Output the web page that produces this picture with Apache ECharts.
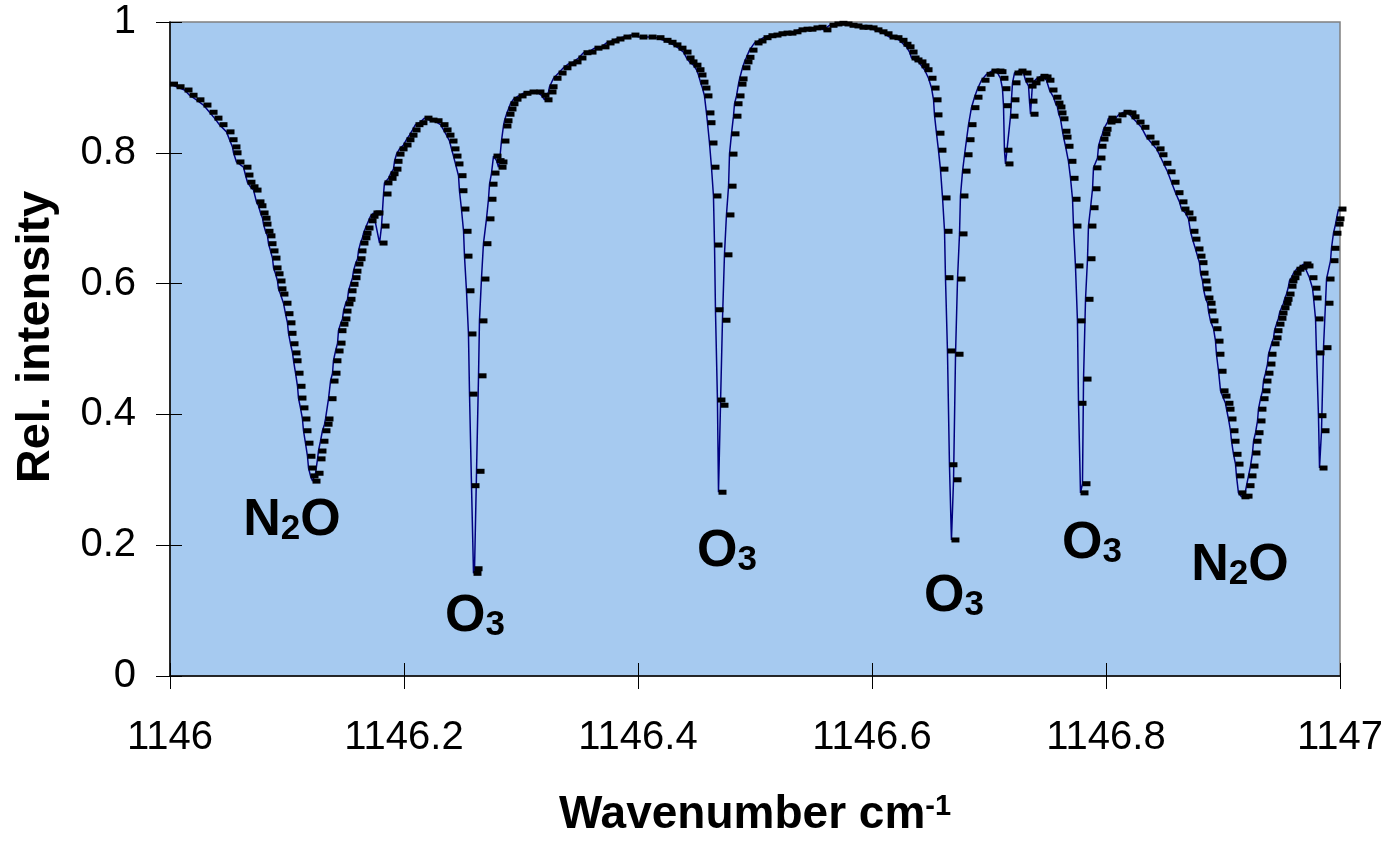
<!DOCTYPE html>
<html><head><meta charset="utf-8">
<script src="https://cdn.jsdelivr.net/npm/echarts/dist/echarts.min.js"></script>
<style>html,body{margin:0;padding:0;background:#fff}#c{width:1389px;height:843px}</style>
</head><body><div id="c"></div>
<script>
const wavenumber = [
1146.0000,1146.0056,1146.0124,1146.0167,1146.0226,1146.0286,1146.0338,1146.0380,1146.0423,1146.0483,
1146.0509,1146.0534,1146.0543,1146.0568,1146.0628,1146.0645,1146.0662,1146.0688,1146.0714,1146.0739,
1146.0756,1146.0774,1146.0791,1146.0799,1146.0816,1146.0833,1146.0842,1146.0859,1146.0876,1146.0885,
1146.0902,1146.0919,1146.0927,1146.0944,1146.0970,1146.0987,1146.1004,1146.1013,1146.1030,1146.1047,
1146.1056,1146.1073,1146.1090,1146.1098,1146.1115,1146.1132,1146.1141,1146.1158,1146.1175,1146.1184,
1146.1201,1146.1218,1146.1244,1146.1261,1146.1269,1146.1286,1146.1303,1146.1321,1146.1329,1146.1355,
1146.1372,1146.1389,1146.1397,1146.1415,1146.1432,1146.1440,1146.1457,1146.1474,1146.1483,1146.1500,
1146.1517,1146.1526,1146.1543,1146.1560,1146.1568,1146.1585,1146.1603,1146.1611,1146.1628,1146.1645,
1146.1654,1146.1671,1146.1697,1146.1714,1146.1739,1146.1756,1146.1791,1146.1808,1146.1825,1146.1833,
1146.1868,1146.1885,1146.1910,1146.1919,1146.1936,1146.1962,1146.1996,1146.2021,1146.2047,1146.2073,
1146.2098,1146.2132,1146.2175,1146.2218,1146.2261,1146.2312,1146.2338,1146.2363,1146.2389,1146.2406,
1146.2423,1146.2440,1146.2466,1146.2474,1146.2491,1146.2509,1146.2517,1146.2534,1146.2551,1146.2560,
1146.2577,1146.2594,1146.2603,1146.2620,1146.2637,1146.2645,1146.2662,1146.2679,1146.2705,1146.2722,
1146.2731,1146.2748,1146.2765,1146.2791,1146.2808,1146.2816,1146.2833,1146.2850,1146.2859,1146.2876,
1146.2893,1146.2910,1146.2936,1146.2979,1146.3021,1146.3073,1146.3132,1146.3175,1146.3201,1146.3235,
1146.3244,1146.3278,1146.3321,1146.3363,1146.3406,1146.3449,1146.3491,1146.3534,1146.3577,1146.3628,
1146.3688,1146.3731,1146.3774,1146.3816,1146.3876,1146.3944,1146.4013,1146.4090,1146.4158,1146.4218,
1146.4261,1146.4303,1146.4346,1146.4389,1146.4415,1146.4440,1146.4474,1146.4500,1146.4517,1146.4534,
1146.4551,1146.4568,1146.4585,1146.4594,1146.4611,1146.4628,1146.4645,1146.4654,1146.4662,1146.4679,
1146.4688,1146.4705,1146.4722,1146.4739,1146.4756,1146.4774,1146.4782,1146.4799,1146.4816,1146.4825,
1146.4842,1146.4859,1146.4868,1146.4893,1146.4910,1146.4927,1146.4953,1146.4996,1146.5030,1146.5073,
1146.5115,1146.5158,1146.5201,1146.5244,1146.5286,1146.5329,1146.5372,1146.5415,1146.5457,1146.5500,
1146.5543,1146.5585,1146.5637,1146.5679,1146.5722,1146.5765,1146.5808,1146.5850,1146.5893,1146.5936,
1146.5979,1146.6021,1146.6064,1146.6107,1146.6150,1146.6192,1146.6235,1146.6269,1146.6295,1146.6321,
1146.6338,1146.6363,1146.6397,1146.6423,1146.6449,1146.6483,1146.6509,1146.6526,1146.6534,1146.6551,
1146.6568,1146.6585,1146.6603,1146.6620,1146.6628,1146.6645,1146.6662,1146.6679,1146.6697,1146.6714,
1146.6731,1146.6748,1146.6756,1146.6774,1146.6791,1146.6808,1146.6825,1146.6850,1146.6876,1146.6902,
1146.6936,1146.6979,1146.7021,1146.7064,1146.7081,1146.7098,1146.7115,1146.7124,1146.7132,1146.7141,
1146.7184,1146.7192,1146.7201,1146.7218,1146.7252,1146.7295,1146.7312,1146.7338,1146.7346,1146.7355,
1146.7372,1146.7406,1146.7440,1146.7466,1146.7491,1146.7517,1146.7551,1146.7568,1146.7585,1146.7594,
1146.7611,1146.7628,1146.7637,1146.7654,1146.7679,1146.7697,1146.7714,1146.7722,1146.7739,1146.7756,
1146.7765,1146.7782,1146.7799,1146.7808,1146.7825,1146.7842,1146.7850,1146.7868,1146.7885,1146.7893,
1146.7927,1146.7936,1146.7953,1146.7970,1146.7979,1146.8013,1146.8021,1146.8064,1146.8107,1146.8150,
1146.8192,1146.8218,1146.8261,1146.8303,1146.8346,1146.8389,1146.8432,1146.8457,1146.8491,1146.8526,
1146.8560,1146.8594,1146.8628,1146.8645,1146.8679,1146.8705,1146.8722,1146.8739,1146.8765,1146.8782,
1146.8799,1146.8808,1146.8825,1146.8833,1146.8850,1146.8868,1146.8876,1146.8893,1146.8919,1146.8936,
1146.8944,1146.8962,1146.8979,1146.8996,1146.9021,1146.9030,1146.9047,1146.9064,1146.9073,1146.9090,
1146.9107,1146.9115,1146.9132,1146.9158,1146.9184,1146.9201,1146.9218,1146.9235,1146.9252,1146.9261,
1146.9278,1146.9295,1146.9303,1146.9321,1146.9338,1146.9346,1146.9363,1146.9380,1146.9389,1146.9415,
1146.9432,1146.9440,1146.9457,1146.9474,1146.9483,1146.9500,1146.9517,1146.9526,1146.9543,1146.9560,
1146.9568,1146.9585,1146.9603,1146.9628,1146.9654,1146.9688,1146.9705,1146.9739,1146.9765,1146.9774,
1146.9791,1146.9799,1146.9816,1146.9825,1146.9842,1146.9859,1146.9876,1146.9885,1146.9919,1146.9927,
1146.9944,1146.9962,1146.9970,1146.9987
];
const intensity = [
.905,.901,.896,.888,.881,.873,.862,.853,.843,.832,
.820,.809,.800,.786,.778,.766,.755,.748,.743,.725,
.719,.708,.700,.691,.680,.673,.661,.650,.639,.624,
.615,.604,.592,.584,.570,.554,.540,.524,.508,.494,
.482,.463,.443,.425,.410,.393,.375,.356,.336,.318,
.306,.298,.310,.332,.344,.359,.375,.385,.393,.424,
.451,.463,.482,.497,.509,.528,.538,.546,.558,.569,
.576,.589,.599,.609,.619,.630,.638,.650,.662,.670,
.677,.685,.696,.703,.708,.708,.662,.688,.737,.754,
.761,.768,.775,.787,.798,.806,.812,.820,.827,.835,
.843,.846,.853,.850,.849,.843,.835,.827,.818,.806,
.795,.783,.765,.742,.714,.680,.642,.589,.523,.431,
.291,.157,.164,.313,.459,.543,.607,.661,.699,.729,
.752,.769,.795,.788,.778,.786,.818,.841,.849,.859,
.867,.875,.882,.887,.891,.893,.893,.888,.881,.893,
.901,.914,.922,.930,.936,.939,.945,.953,.954,.960,
.962,.968,.971,.974,.977,.980,.977,.977,.976,.972,
.969,.965,.960,.954,.945,.939,.934,.927,.919,.908,
.899,.887,.861,.846,.815,.778,.734,.659,.560,.422,
.281,.414,.544,.644,.705,.749,.798,.829,.856,.875,
.887,.905,.913,.930,.939,.946,.957,.968,.971,.976,
.979,.980,.982,.983,.983,.985,.988,.989,.989,.991,
.992,.988,.995,.997,.998,.997,.995,.994,.992,.992,
.991,.988,.985,.982,.977,.976,.972,.966,.962,.954,
.945,.942,.939,.933,.927,.914,.899,.881,.858,.830,
.804,.775,.731,.680,.609,.497,.323,.208,.300,.492,
.607,.676,.734,.772,.797,.820,.843,.869,.885,.898,
.911,.920,.925,.925,.924,.914,.898,.872,.804,.783,
.856,.881,.907,.922,.925,.922,.911,.902,.879,.859,
.907,.913,.917,.916,.911,.896,.885,.876,.870,.861,
.852,.833,.824,.810,.787,.761,.729,.688,.627,.543,
.417,.280,.294,.454,.576,.638,.688,.716,.745,.777,
.792,.810,.821,.829,.836,.847,.853,.849,.858,.862,
.861,.855,.847,.839,.824,.815,.806,.797,.784,.771,
.755,.739,.725,.714,.708,.699,.680,.668,.653,.642,
.632,.616,.604,.592,.578,.570,.558,.543,.531,.512,
.492,.466,.436,.428,.417,.408,.393,.375,.359,.339,
.324,.306,.280,.274,.275,.291,.306,.321,.341,.359,
.372,.390,.408,.424,.436,.451,.463,.477,.492,.508,
.517,.528,.538,.547,.555,.563,.570,.576,.584,.596,
.604,.609,.616,.622,.625,.630,.627,.609,.593,.578,
.546,.494,.398,.318,.375,.502,.570,.607,.635,.654,
.677,.691,.699,.714
];
// molecule labels: [main1, subscript, main2, anchor wavenumber, anchor intensity]
const moleculeLabels = [
  ['N','2','O',1146.1043,0.237],
  ['O','3','',1146.2607,0.090],
  ['O','3','',1146.4761,0.190],
  ['O','3','',1146.6701,0.121],
  ['O','3','',1146.7880,0.202],
  ['N','2','O',1146.9145,0.168]
];
const xRange = [1146, 1147, 0.2];
const yRange = [0, 1, 0.2];

const FONT = '"Liberation Sans", Arial, Helvetica, sans-serif';
const pts = wavenumber.map((w, i) => [w, intensity[i]]);
const fmt = v => String(Math.round(v * 10) / 10);

const chart = echarts.init(document.getElementById('c'), null, {renderer: 'canvas'});
const tickStyle = {color: '#000', width: 1};
chart.setOption({
  animation: false,
  backgroundColor: '#ffffff',
  grid: {left: 170, top: 22, width: 1170, height: 654, show: true,
         backgroundColor: '#A6CAF0', borderColor: '#808080', borderWidth: 1.5},
  xAxis: [
    {type: 'value', min: xRange[0], max: xRange[1], interval: xRange[2],
     axisLine: {show: true, onZero: false, lineStyle: {color: '#000', width: 1.5}},
     axisTick: {show: true, inside: false, length: 13, lineStyle: tickStyle},
     axisLabel: {fontSize: 40, color: '#000', fontFamily: FONT, margin: 42, formatter: fmt,
                 showMinLabel: true, showMaxLabel: true},
     splitLine: {show: false},
     name: '{b|Wavenumber cm}{s|-1}', nameLocation: 'middle', nameGap: 116,
     nameTextStyle: {rich: {
       b: {fontSize: 46, fontWeight: 'bold', fontFamily: FONT, color: '#000', lineHeight: 46},
       s: {fontSize: 29, fontWeight: 'bold', fontFamily: FONT, color: '#000', verticalAlign: 'top', lineHeight: 20}
     }}},
    {type: 'value', min: xRange[0], max: xRange[1], interval: xRange[2], position: 'bottom',
     axisLine: {show: false}, axisTick: {show: true, inside: true, length: 13, lineStyle: tickStyle},
     axisLabel: {show: false}, splitLine: {show: false}}
  ],
  yAxis: [
    {type: 'value', min: yRange[0], max: yRange[1], interval: yRange[2],
     axisLine: {show: true, onZero: false, lineStyle: {color: '#000', width: 1.5}},
     axisTick: {show: true, inside: false, length: 14, lineStyle: tickStyle},
     axisLabel: {fontSize: 40, color: '#000', fontFamily: FONT, margin: 34, formatter: fmt},
     splitLine: {show: false},
     name: 'Rel. intensity', nameLocation: 'middle', nameGap: 110,
     nameTextStyle: {fontSize: 47, fontWeight: 'bold', fontFamily: FONT, color: '#000', padding: [0, 0, 0, 24]}},
    {type: 'value', min: yRange[0], max: yRange[1], interval: yRange[2], position: 'left',
     axisLine: {show: false}, axisTick: {show: true, inside: true, length: 12, lineStyle: tickStyle},
     axisLabel: {show: false}, splitLine: {show: false}}
  ],
  series: [
    {type: 'line', data: pts, showSymbol: false, symbol: 'none',
     lineStyle: {color: '#000080', width: 1.5}, z: 2},
    {type: 'scatter', data: pts, symbol: 'rect', symbolSize: [8, 5], symbolOffset: [4, 0],
     itemStyle: {color: '#000', opacity: 1}, clip: false, z: 3}
  ]
});

// molecule annotations, placed through the chart's own coordinate conversion
const richStyles = {
  m: {fontSize: 52, fontWeight: 'bold', fontFamily: FONT, fill: '#000', lineHeight: 52},
  s: {fontSize: 35, fontWeight: 'bold', fontFamily: FONT, fill: '#000', lineHeight: 8, verticalAlign: 'bottom'}
};
chart.setOption({
  graphic: moleculeLabels.map(m => {
    const p = chart.convertToPixel({xAxisIndex: 0, yAxisIndex: 0}, [m[3], m[4]]);
    return {
      type: 'text', x: p[0], y: p[1], z: 100,
      style: {
        text: '{m|' + m[0] + '}{s|' + m[1] + '}' + (m[2] ? '{m|' + m[2] + '}' : ''),
        rich: richStyles, fill: '#000', align: 'center', verticalAlign: 'middle'
      }
    };
  })
});
</script></body></html>
